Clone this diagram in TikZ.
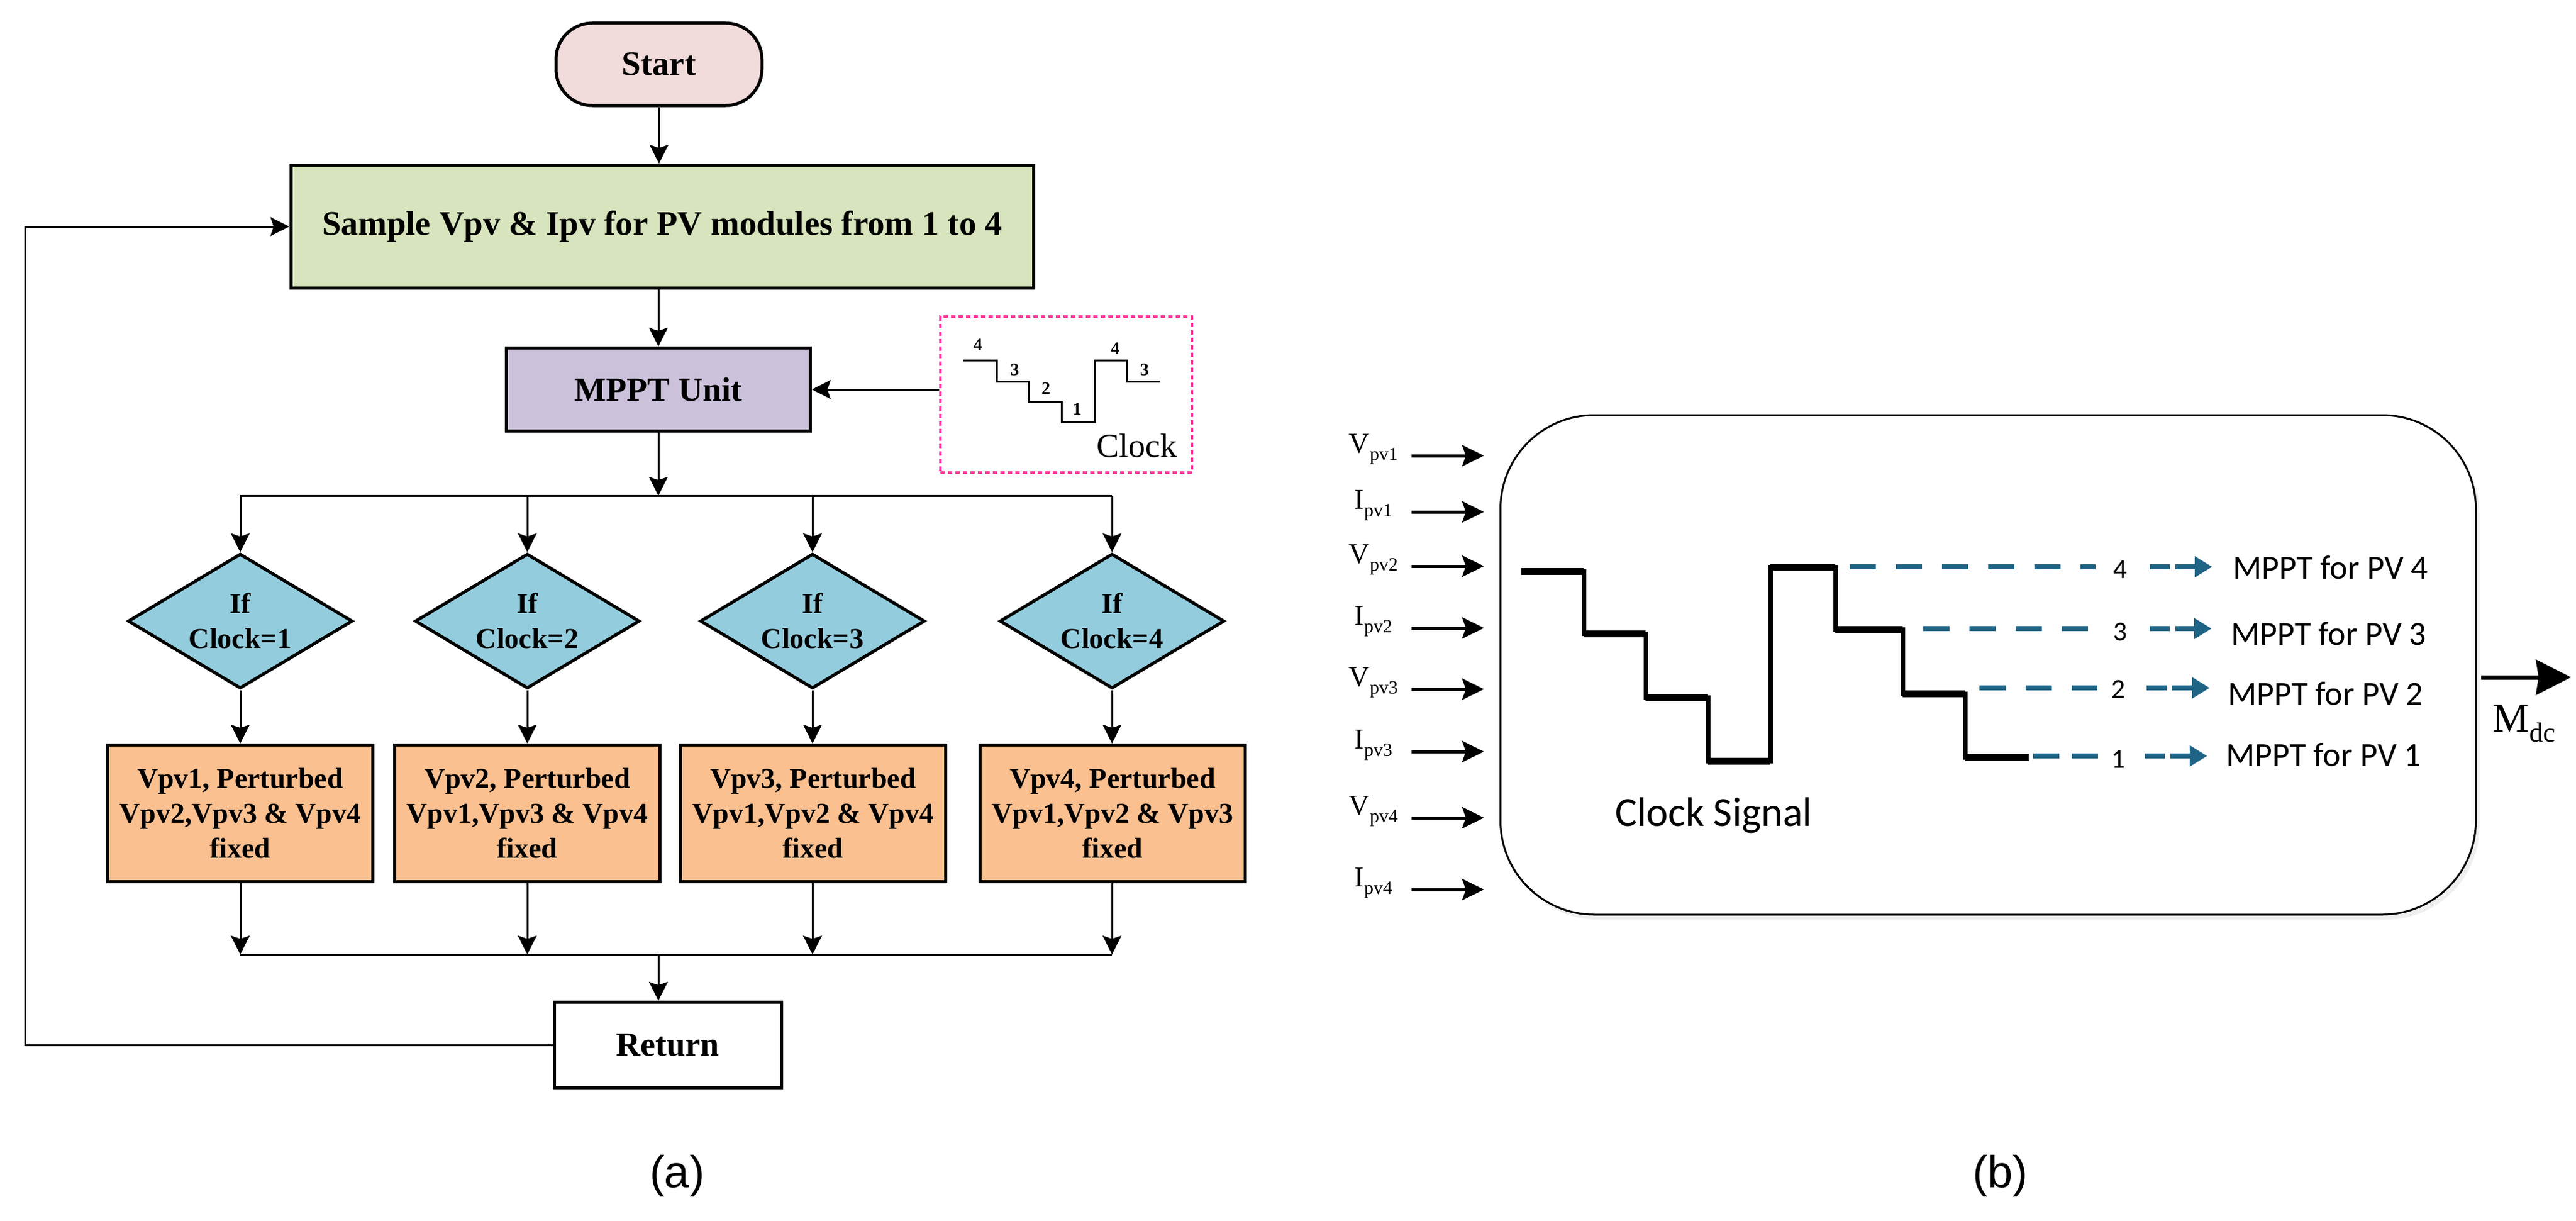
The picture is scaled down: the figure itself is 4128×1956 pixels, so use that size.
\documentclass[tikz,border=0pt]{standalone}
\usepackage{fontspec}
\setmainfont{Liberation Serif}
\newfontfamily\carl{Carlito}
\newfontfamily\arialf{Liberation Sans}
\usetikzlibrary{arrows.meta,shapes.geometric,shadows}
\definecolor{startfill}{HTML}{F2DCDB}
\definecolor{samplefill}{HTML}{D7E4BD}
\definecolor{mpptfill}{HTML}{CCC1DA}
\definecolor{diamfill}{HTML}{93CDDD}
\definecolor{orangefill}{HTML}{FAC090}
\definecolor{dashblue}{HTML}{1F6485}
\definecolor{clockpink}{HTML}{FF3399}
\newcommand{\mysub}[1]{\raisebox{-0.28em}{\fontsize{30}{32}\selectfont #1}}
\tikzset{
  fbox/.style={draw=black, line width=5pt, inner sep=0pt, align=center,
    font=\bfseries\fontsize{55}{64}\selectfont},
  obox/.style={fbox, fill=orangefill, minimum width=425pt, minimum height=219pt,
    font=\bfseries\fontsize{46}{56}\selectfont},
  dbox/.style={fbox, diamond, aspect=1.667, fill=diamfill, minimum width=360pt,
    minimum height=216pt, font=\bfseries\fontsize{46}{56}\selectfont},
  arr/.style={line width=3pt, -{Stealth[length=30pt,width=30pt,inset=5pt]}},
  plainline/.style={line width=3pt},
  clocknum/.style={inner sep=0pt, font=\bfseries\fontsize{28}{30}\selectfont},
  inarr/.style={line width=5pt, -{Stealth[length=35pt,width=34pt,inset=6pt]}},
  inlbl/.style={inner sep=0pt, anchor=base, font=\fontsize{46}{50}\selectfont},
  wave/.style={line width=7pt, line cap=butt, line join=miter},
  wavebold/.style={line width=11pt, line cap=butt},
  dashb/.style={draw=dashblue, line width=8pt, dash pattern=on 42pt off 32pt},
  dasharr/.style={draw=dashblue, line width=8pt, dash pattern=on 32pt off 9pt,
    -{Triangle[length=28pt,width=32pt,fill=dashblue]}},
  numlbl/.style={inner sep=0pt, font=\carl\fontsize{44}{46}\selectfont},
  mtxt/.style={inner sep=0pt, anchor=west, font=\carl\fontsize{54}{58}\selectfont},
  caption/.style={inner sep=0pt, font=\arialf\fontsize{72}{76}\selectfont}
}
\begin{document}
\begin{tikzpicture}[x=1pt,y=-1pt]
\useasboundingbox (0,0) rectangle (4128,1956);
\fill[white] (0,0) rectangle (4128,1956);

% ---------------- (a) flowchart ----------------
\node[fbox, fill=startfill, minimum width=330pt, minimum height=132pt,
      rounded corners=58pt] (start) at (1056,103) {Start};
\node[fbox, fill=samplefill, minimum width=1190pt, minimum height=197pt]
      (sample) at (1061,363) {Sample Vpv \& Ipv for PV modules from 1 to 4};
\node[fbox, fill=mpptfill, minimum width=487pt, minimum height=133pt,
      font=\bfseries\fontsize{54}{60}\selectfont]
      (mppt) at (1055,624) {MPPT Unit};
\node[draw=clockpink, line width=4pt, dash pattern=on 7pt off 5pt,
      minimum width=403pt, minimum height=250pt, inner sep=0pt]
      (clockbox) at (1708,632) {};

% clock waveform inside the dotted box
\draw[line width=3pt] (1543,577) -- (1597,577) -- (1597,611) -- (1648,611)
  -- (1648,643) -- (1701,643) -- (1701,676) -- (1754,676) -- (1754,577)
  -- (1805,577) -- (1805,611) -- (1859,611);
\node[clocknum] (c4a) at (1567,552) {4};
\node[clocknum] (c3a) at (1626,592) {3};
\node[clocknum] (c2a) at (1676,622) {2};
\node[clocknum] (c1a) at (1726,655) {1};
\node[clocknum] (c4b) at (1787,558) {4};
\node[clocknum] (c3b) at (1834,592) {3};
\node[inner sep=0pt, font=\fontsize{54}{56}\selectfont] (clocklbl) at (1822,714) {Clock};

\node[dbox] (d1) at (385,995) {If\\Clock=1};
\node[dbox] (d2) at (845,995) {If\\Clock=2};
\node[dbox] (d3) at (1302,995) {If\\Clock=3};
\node[dbox] (d4) at (1782,995) {If\\Clock=4};

\node[obox] (o1) at (385,1303) {Vpv1, Perturbed\\Vpv2,Vpv3 \& Vpv4\\fixed};
\node[obox] (o2) at (845,1303) {Vpv2, Perturbed\\Vpv1,Vpv3 \& Vpv4\\fixed};
\node[obox] (o3) at (1303,1303) {Vpv3, Perturbed\\Vpv1,Vpv2 \& Vpv4\\fixed};
\node[obox] (o4) at (1783,1303) {Vpv4, Perturbed\\Vpv1,Vpv2 \& Vpv3\\fixed};

\node[fbox, fill=white, minimum width=364pt, minimum height=137pt,
      font=\bfseries\fontsize{54}{60}\selectfont]
      (ret) at (1070,1674) {Return};

\coordinate (branch) at (1055,794);
\coordinate (merge) at (1055,1529);
\coordinate (loopx) at (40,0);

\draw[arr] (start.south) -- (start.south |- sample.north);
\draw[arr] (sample.south -| mppt.north) -- (mppt.north);
\draw[arr] (clockbox.west |- mppt.east) -- (mppt.east);
\draw[arr] (mppt.south -| branch) -- (branch);
\draw[plainline] (d1.north |- branch) -- (d4.north |- branch);
\foreach \d in {d1,d2,d3,d4} {
  \draw[arr] (\d.north |- branch) -- (\d.north);
}
\foreach \d/\o in {d1/o1,d2/o2,d3/o3,d4/o4} {
  \draw[arr] (\d.south) -- (\o.north -| \d.south);
  \draw[arr] (\o.south -| \d.south) -- (\d.south |- merge);
}
\draw[plainline] (d1.south |- merge) -- (d4.south |- merge);
\draw[arr] (merge) -- (merge |- ret.north);
\draw[arr] (ret.west) -- (ret.west -| loopx) |- (sample.west);

\node[caption] (capa) at (1085,1884) {(a)};

% ---------------- (b) block ----------------
\node[draw=black, line width=3pt, fill=white, rounded corners=150pt,
      minimum width=1563pt, minimum height=800pt, inner sep=0pt,
      drop shadow={shadow xshift=6pt, shadow yshift=-8pt, opacity=0.12}]
      (ctrl) at (3186,1065) {};

\foreach \name/\lab/\sb/\yy in {v1/V/pv1/730, i1/I/pv1/820, v2/V/pv2/907,
    i2/I/pv2/1006, v3/V/pv3/1104, i3/I/pv3/1204, v4/V/pv4/1310, i4/I/pv4/1425} {
  \node[inlbl] (l\name) at (2201,\yy-5) {\lab\mysub{\sb}};
  \coordinate (s\name) at (2262,\yy);
  \draw[inarr] (s\name) -- ([xshift=-25pt]ctrl.west |- s\name);
}

% clock staircase signal
\draw[wave] (2438,915) -- (2538,915) -- (2538,1015) -- (2637,1015) -- (2637,1117)
  -- (2737,1117) -- (2737,1219) -- (2837,1219) -- (2837,908) -- (2941,908)
  -- (2941,1008) -- (3049,1008) -- (3049,1111) -- (3149,1111) -- (3149,1213)
  -- (3251,1213);
\foreach \xa/\xb/\yy in {2438/2538/915, 2538/2637/1015, 2637/2737/1117,
   2737/2837/1219, 2837/2941/908, 2941/3049/1008, 3049/3149/1111, 3149/3251/1213} {
  \draw[wavebold] (\xa,\yy) -- (\xb,\yy);
}
\node[inner sep=0pt, font=\carl\fontsize{66}{70}\selectfont] (clocksig) at (2746,1306) {Clock Signal};

% dashed outputs
\node[numlbl] (n4) at (3398,912) {4};
\node[numlbl] (n3) at (3398,1012) {3};
\node[numlbl] (n2) at (3395,1104) {2};
\node[numlbl] (n1) at (3395,1216) {1};
\node[mtxt] (m4) at (3578,909) {MPPT for PV 4};
\node[mtxt] (m3) at (3575,1015) {MPPT for PV 3};
\node[mtxt] (m2) at (3570,1111) {MPPT for PV 2};
\node[mtxt] (m1) at (3567,1209) {MPPT for PV 1};

\draw[dashb] (2964,908) -- ([xshift=-40pt]n4.center |- 0,908);
\draw[dashb] (3082,1007) -- ([xshift=-52pt]n3.center |- 0,1007);
\draw[dashb] (3172,1102) -- ([xshift=-34pt]n2.center |- 0,1102);
\draw[dashb, dash pattern=on 42pt off 20pt] (3258,1211) -- ([xshift=-22pt]n1.center |- 0,1211);

\draw[dasharr] ([xshift=47pt]n4.center |- 0,908) -- ([xshift=-33pt]m4.west |- 0,908);
\draw[dasharr] ([xshift=47pt]n3.center |- 0,1007) -- ([xshift=-31pt]m3.west |- 0,1007);
\draw[dasharr] ([xshift=45pt]n2.center |- 0,1102) -- ([xshift=-29pt]m2.west |- 0,1102);
\draw[dasharr] ([xshift=42pt]n1.center |- 0,1211) -- ([xshift=-30pt]m1.west |- 0,1211);

% output
\coordinate (mdcend) at (4120,1085);
\draw[line width=7pt, -{Stealth[length=56pt,width=56pt,inset=4pt]}]
  ([xshift=7pt]ctrl.east |- mdcend) -- (mdcend);
\node[inner sep=0pt, anchor=base, font=\fontsize{66}{70}\selectfont] (mdc)
  at (4045,1172) {M\raisebox{-0.25em}{\fontsize{44}{46}\selectfont dc}};

\node[caption] (capb) at (3205,1884) {(b)};
\end{tikzpicture}
\end{document}
